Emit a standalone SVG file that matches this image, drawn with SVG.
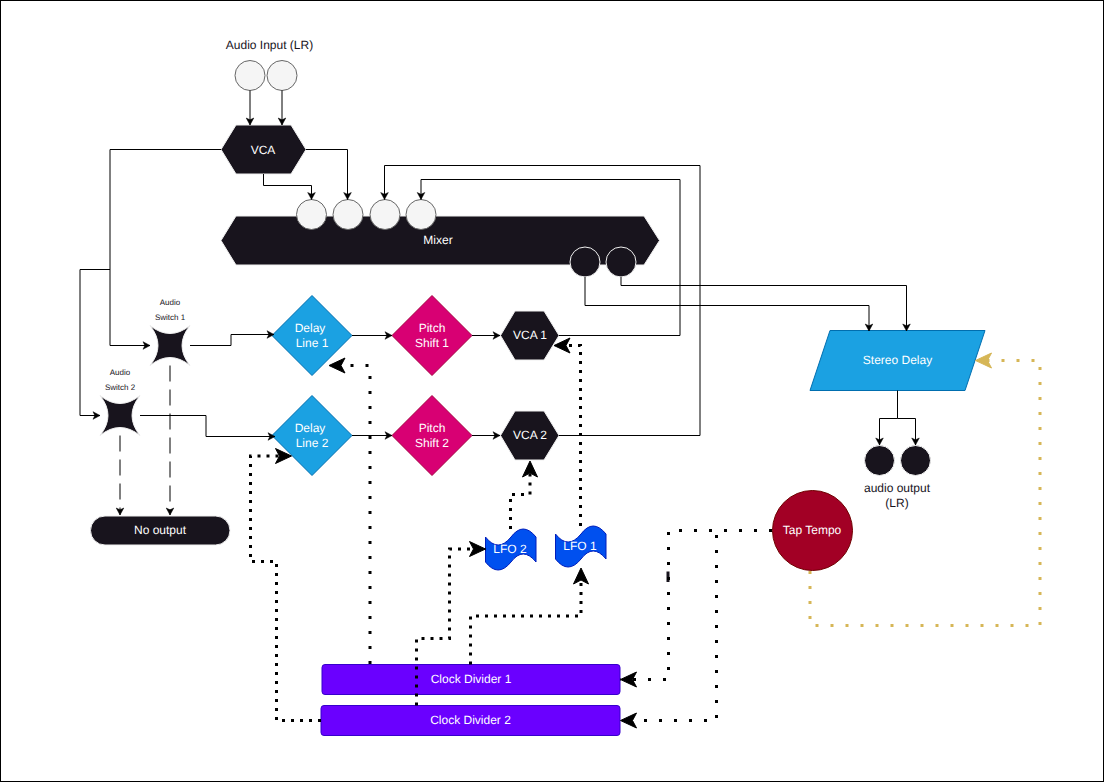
<svg xmlns="http://www.w3.org/2000/svg" width="1104" height="782" viewBox="0 0 1104 782">
<style>
text{font-family:"Liberation Sans",Arial,sans-serif;font-size:12px;text-anchor:middle;fill:#fff;text-rendering:geometricPrecision}
text.d{fill:#18141d}
text.s{font-size:8px;fill:#18141d}
.dark{fill:#18141d;stroke:#f0f0f0;stroke-width:1}
.lite{fill:#f5f5f5;stroke:#666;stroke-width:1}
.blue{fill:#1ba1e2;stroke:#006eaf;stroke-width:1}
.pink{fill:#d80073;stroke:#a50040;stroke-width:1}
.lfo{fill:#0050ef;stroke:#001dbc;stroke-width:1}
.clk{fill:#6a00ff;stroke:#3700cc;stroke-width:1}
#connectors path{fill:none;stroke:#000;stroke-width:1}
#connectors path.a{marker-end:url(#sm)}
#connectors path.dash{stroke-dasharray:16 8;marker-end:url(#sm)}
#connectors path.k{stroke-width:3;stroke-dasharray:3 6;marker-end:url(#bg)}
#connectors path.w{stroke-width:3;stroke-dasharray:3 12;marker-end:url(#bg)}
#connectors path.g{stroke:#d6b656;stroke-width:3;stroke-dasharray:3 12;marker-end:url(#gd)}
</style>
<defs>
<marker id="sm" markerUnits="userSpaceOnUse" markerWidth="10" markerHeight="10" refX="8" refY="5" orient="auto"><path d="M1,1.200L8,5L1,8.800L2.800,5Z" fill="#000" stroke="#000" stroke-width=".5"/></marker>
<marker id="bg" markerUnits="userSpaceOnUse" markerWidth="20" markerHeight="20" refX="17.500" refY="10" orient="auto"><path d="M1.500,2.500L17.500,10L1.500,17.500L5.500,10Z" fill="#000" stroke="#000"/></marker>
<marker id="gd" markerUnits="userSpaceOnUse" markerWidth="20" markerHeight="20" refX="17.500" refY="10" orient="auto"><path d="M1.500,2.500L17.500,10L1.500,17.500L5.500,10Z" fill="#d6b656" stroke="#d6b656"/></marker>
</defs>
<rect x="0.500" y="0.500" width="1103" height="781" fill="#fff" stroke="#000"/>
<g id="audio-input"><text class="d" x="269.500" y="49">Audio Input (LR)</text><circle class="lite" cx="250" cy="75.500" r="15"/><circle class="lite" cx="282" cy="75.500" r="15"/></g>
<g id="vca"><path class="dark" d="M221,149.500L236,125H291L306,149.500L291,174H236Z"/><text x="263" y="153.500">VCA</text></g>
<g id="mixer"><path class="dark" d="M221,240.500L236,216H644L659.500,240.500L644,265H236Z"/><text x="438" y="244">Mixer</text>
<circle class="lite" cx="311.500" cy="214.500" r="15"/><circle class="lite" cx="348" cy="214.500" r="15"/><circle class="lite" cx="385" cy="214.500" r="15"/><circle class="lite" cx="421" cy="214.500" r="15"/>
<circle class="dark" cx="585" cy="262" r="15"/><circle class="dark" cx="621" cy="262" r="15"/></g>
<g id="switch1"><path class="dark" d="M150,325.500Q170,341.500 190,325.500Q174,345.500 190,365.500Q170,349.500 150,365.500Q166,345.500 150,325.500Z"/><text class="s" x="170" y="305">Audio</text><text class="s" x="170" y="320">Switch 1</text></g>
<g id="switch2"><path class="dark" d="M100,395.500Q120,411.500 140,395.500Q124,415.500 140,435.500Q120,419.500 100,435.500Q116,415.500 100,395.500Z"/><text class="s" x="120" y="375">Audio</text><text class="s" x="120" y="390">Switch 2</text></g>
<g id="no-output"><rect class="dark" x="90.500" y="516" width="139.500" height="29" rx="14.500"/><text x="160" y="534">No output</text></g>
<g id="delay1"><path class="blue" d="M312,295.500L352,335.500L312,375.500L272,335.500Z"/><text x="310" y="332">Delay</text><text x="312" y="347">Line 1</text></g>
<g id="delay2"><path class="blue" d="M312,395.500L352,435.500L312,475.500L272,435.500Z"/><text x="310" y="432">Delay</text><text x="312" y="447">Line 2</text></g>
<g id="pitch1"><path class="pink" d="M432,295.500L472,335.500L432,375.500L392,335.500Z"/><text x="432" y="332">Pitch</text><text x="432" y="347">Shift 1</text></g>
<g id="pitch2"><path class="pink" d="M432,395.500L472,435.500L432,475.500L392,435.500Z"/><text x="432" y="432">Pitch</text><text x="432" y="447">Shift 2</text></g>
<g id="vca1"><path class="dark" d="M500.500,335.500L515,311H544L559,335.500L544,360H515Z"/><text x="530" y="339">VCA 1</text></g>
<g id="vca2"><path class="dark" d="M500.500,435.500L515,411H544L559,435.500L544,460H515Z"/><text x="530" y="439">VCA 2</text></g>
<g id="stereo-delay"><path class="blue" d="M810,390.500L830,330.500H985L965,390.500Z"/><text x="897.500" y="364">Stereo Delay</text></g>
<g id="audio-output"><circle class="dark" cx="879.500" cy="460.500" r="15"/><circle class="dark" cx="915.500" cy="460.500" r="15"/><text class="d" x="897" y="492">audio output</text><text class="d" x="897" y="507">(LR)</text></g>
<g id="tap-tempo"><circle cx="812.500" cy="530.500" r="40" fill="#a20025" stroke="#6f0000"/><text x="812" y="534">Tap Tempo</text></g>
<g id="lfo2"><path class="lfo" d="M485.500,537Q498,553 511,537Q523,521 536,537V562Q523,546 511,562Q498,578 485.500,562Z"/><text x="510" y="553">LFO 2</text></g>
<g id="lfo1"><path class="lfo" d="M555.500,534Q568,550 581,534Q593,518 606,534V559Q593,543 581,559Q568,575 555.500,559Z"/><text x="580" y="550">LFO 1</text></g>
<g id="clock1"><rect class="clk" x="322" y="664.500" width="298" height="30" rx="3"/><text x="471" y="683">Clock Divider 1</text></g>
<g id="clock2"><rect class="clk" x="321" y="705.500" width="299" height="30" rx="3"/><text x="470.500" y="724">Clock Divider 2</text></g>
<rect id="clipped-mark" x="666.500" y="571.500" width="3" height="10.500" fill="#18141d"/>
<g id="connectors">
<path class="a" d="M250,90.500V125"/><path class="a" d="M282,90.500V125"/>
<path class="a" d="M221,149.500H110V345.500H150"/>
<path class="a" d="M110,269.500H80V415.500H100"/>
<path class="a" d="M263.500,174V185.500H311.500V199.500"/>
<path class="a" d="M306,149.500H347.500V199.500"/>
<path class="a" d="M559,435.500H700V165.500H384.500V199.500"/>
<path class="a" d="M559,335.500H680V179.500H421V199.500"/>
<path class="a" d="M585,277V305.500H869V331"/>
<path class="a" d="M621,277V285.500H906.500V331"/>
<path class="a" d="M190,345.500H231V334.500H274"/>
<path class="a" d="M140,415.500H206V436.500H275"/>
<path class="a" d="M352,335.500H392"/><path class="a" d="M352,435.500H392"/>
<path class="a" d="M472,335.500H500"/><path class="a" d="M472,435.500H500"/>
<path class="a" d="M897.500,390.500V418.500H879.500V445"/><path class="a" d="M897.500,418.500H915.500V445"/>
<path class="dash" d="M120,435.500V515"/><path class="dash" d="M170,365.500V515"/>
<path class="w" d="M370,664V365.500H329"/>
<path class="k" d="M416.500,705.500V638.500H449.500V549H485.500"/>
<path class="k" d="M470.500,664.500V616H581V568"/>
<path class="k" d="M510.500,529V494.500H530V461"/>
<path class="k" d="M580.500,526V345.500H554"/>
<path class="k" d="M321,720.500H276.500V561.500H250.500V456H291.500"/>
<path class="w" d="M772,530.500H668.500V679.500H620.500"/>
<path class="w" d="M772,530.500H716.500V720.500H620.500"/>
<path class="g" d="M810,571V625.500H1040V360.500H975.500"/>
</g>
</svg>
